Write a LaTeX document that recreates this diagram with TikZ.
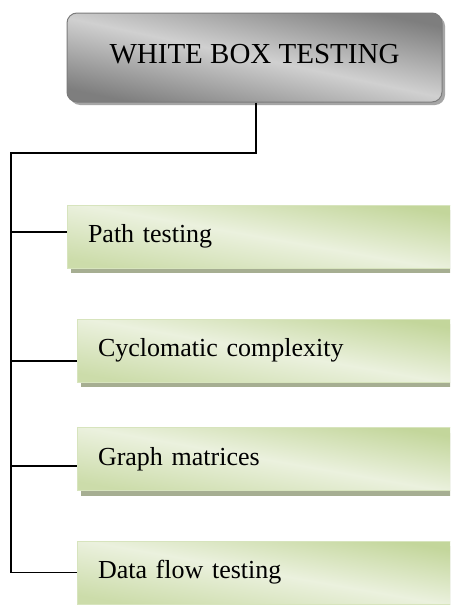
\documentclass[tikz,border=0pt]{standalone}
\usepackage{fontspec}
\setmainfont{Liberation Serif}
\usetikzlibrary{shadows,calc}
\definecolor{gdark}{HTML}{C3D69B}
\definecolor{glight}{HTML}{EBF1DE}
\definecolor{gline}{HTML}{D7E4BD}
\definecolor{gshadow}{HTML}{A6AE92}
\definecolor{kdark}{HTML}{6D6D6D}
\definecolor{kmid}{HTML}{7E7E7E}
\definecolor{klight}{HTML}{D0D0D0}
\tikzset{
  headbox/.style={rounded corners=10pt, draw=kdark!90, line width=1pt,
    shading=axis, top color=kmid, bottom color=kmid, middle color=klight, shading angle=-12,
    drop shadow={shadow xshift=3pt, shadow yshift=-3pt, fill=black!35, opacity=1},
    minimum width=375pt, minimum height=89pt, text depth=8pt, font=\fontsize{29}{34}\selectfont},
  itembox/.style={draw=gline, line width=1pt,
    shading=axis, top color=gdark, bottom color=gdark!85, middle color=glight, shading angle=-10,
    drop shadow={shadow xshift=4pt, shadow yshift=-5pt, fill=gshadow, opacity=1},
    inner xsep=21pt, text width=333pt, align=left, minimum height=63pt,
    font=\fontsize{26}{30}\selectfont},
  conn/.style={draw=black, line width=1.3pt}
}
\begin{document}
\begin{tikzpicture}[x=1pt,y=-1pt]
\clip (0,0) rectangle (450,605);
\fill[white] (0,0) rectangle (450,605);
\node[headbox] (top) at (254.5,57.5) {WHITE BOX TESTING};
\node[itembox, text width=343pt] (b1) at (259.5,236.5) {Path testing};
\node[itembox] (b2) at (264.5,350.5) {Cyclomatic complexity};
\node[itembox] (b3) at (264.5,459) {Graph matrices};
\node[itembox] (b4) at (264.5,572.5) {Data flow testing};
\coordinate (j) at (11,153);
\draw[conn] ($(top.south)+(1.5,0)$) |- (j) -- (j |- b4.west) -- (b4.west);
\draw[conn] (j |- {$(b1.west)+(0,-4.5)$}) -- ($(b1.west)+(0,-4.5)$);
\draw[conn] (j |- {$(b2.west)+(0,10.5)$}) -- ($(b2.west)+(0,10.5)$);
\draw[conn] (j |- {$(b3.west)+(0,7)$}) -- ($(b3.west)+(0,7)$);
\end{tikzpicture}
\end{document}
